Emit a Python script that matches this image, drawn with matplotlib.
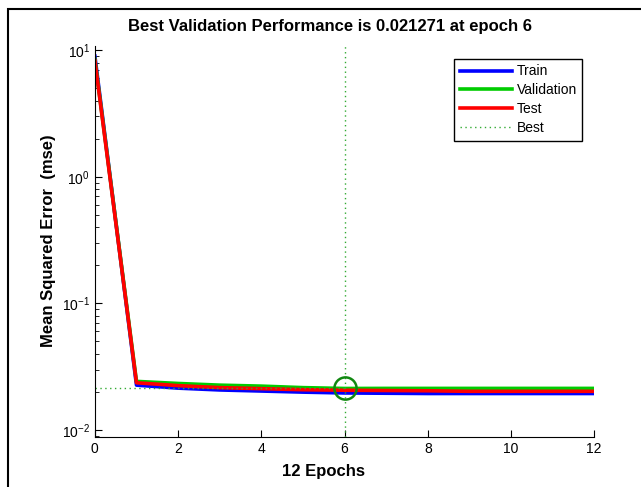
import matplotlib.pyplot as plt
from matplotlib.patches import Rectangle
from matplotlib.ticker import LogLocator, FixedLocator, NullFormatter

plt.rcParams['font.family'] = ['Liberation Sans', 'DejaVu Sans']
plt.rcParams['mathtext.fontset'] = 'custom'
plt.rcParams['mathtext.rm'] = 'Liberation Sans'

epochs = [0, 1, 2, 3, 4, 5, 6, 7, 8, 9, 10, 11, 12]
train = [9.0, 0.0226, 0.0214, 0.0207, 0.0203, 0.0199, 0.0196, 0.0195, 0.0194, 0.0194, 0.0194, 0.0194, 0.0194]
validation = [8.5, 0.0242, 0.0233, 0.0226, 0.0222, 0.0216, 0.021271, 0.0213, 0.0213, 0.0213, 0.0213, 0.0213, 0.0213]
test = [8.3, 0.0236, 0.0224, 0.0216, 0.0212, 0.0208, 0.0206, 0.0205, 0.0204, 0.0202, 0.0202, 0.0202, 0.0202]
best_epoch = 6
best_perf = 0.021271

fig = plt.figure(figsize=(6.41, 4.87), dpi=100)
ax = fig.add_axes([0.148, 0.1027, 0.779, 0.8028])

ax.plot(epochs, train, color='#0000ff', lw=2.6, label='Train')
ax.plot(epochs, validation, color='#00cc00', lw=2.6, label='Validation')
ax.plot(epochs, test, color='#ff0000', lw=2.6, label='Test')
ax.axvline(best_epoch, color='#33aa33', lw=1, ls=(0, (1, 2.5)), label='Best')
ax.plot([0, best_epoch], [best_perf, best_perf], color='#33aa33', lw=1, ls=(0, (1, 2.5)))
ax.plot([best_epoch], [best_perf], marker='o', ms=16, mfc='none', mec='#118811', mew=1.8)

ax.set_yscale('log')
ax.set_xlim(0, 12)
ax.set_ylim(0.0088, 10.8)
ax.xaxis.set_major_locator(FixedLocator([0, 2, 4, 6, 8, 10, 12]))
ax.yaxis.set_major_locator(FixedLocator([0.01, 0.1, 1, 10]))
ax.yaxis.set_minor_locator(LogLocator(base=10, subs=range(2, 10)))
ax.yaxis.set_minor_formatter(NullFormatter())
ax.set_yticklabels([r'$10^{-2}$', r'$10^{-1}$', r'$10^{0}$', r'$10^{1}$'])
ax.tick_params(which='both', direction='in', labelsize=10, colors='black')
ax.tick_params(which='major', length=5)
ax.tick_params(which='minor', length=3)
for s in ['top', 'right']:
    ax.spines[s].set_visible(False)

leg = ax.legend(loc='upper right', bbox_to_anchor=(0.99, 0.985), fancybox=False, edgecolor='black',
                fontsize=10, handlelength=3.8, handletextpad=0.3, borderpad=0.4, labelspacing=0.35,
                framealpha=1)
leg.get_frame().set_linewidth(1)

fig.text(0.5156, 0.937, 'Best Validation Performance is 0.021271 at epoch 6',
         ha='center', va='baseline', fontsize=12, fontweight='bold')
fig.text(0.505, 0.022, '12 Epochs', ha='center', va='baseline', fontsize=12, fontweight='bold')
fig.text(0.075, 0.505, 'Mean Squared Error  (mse)', ha='center', va='center', rotation=90,
         fontsize=12, fontweight='bold')

fig.patches.append(Rectangle((8 / 641, -0.1), 1.2, 1.1 - 9 / 487, transform=fig.transFigure,
                             fill=False, edgecolor='black', lw=1.5))

fig.savefig('out.png', dpi=100)
